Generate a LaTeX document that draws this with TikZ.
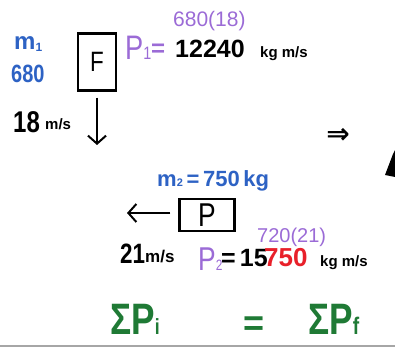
\documentclass[tikz,border=0pt]{standalone}
\usepackage{fontspec}
\setmainfont{Liberation Sans}
\newfontfamily\hand[FakeStretch=0.8]{Liberation Sans}
\newfontfamily\symf{DejaVu Sans}
\usetikzlibrary{arrows.meta}
\definecolor{hblue}{HTML}{2D62C4}
\definecolor{hpurple}{HTML}{9B6BD6}
\definecolor{hred}{HTML}{E8202A}
\definecolor{hgreen}{HTML}{1F7A35}
\newcommand\fsz[1]{\fontsize{#1}{#1}\selectfont}
\tikzset{
  txt/.style={inner sep=0pt, anchor=base west},
  boxnode/.style={draw, line width=2.5pt, inner sep=0pt},
  motion/.style={line width=2pt, -{Straight Barb[length=8pt,width=18pt]}}
}
\begin{document}
\begin{tikzpicture}[x=1pt,y=-1pt]
\useasboundingbox (0,0) rectangle (395,347);
\clip (0,0) rectangle (395,347);
% object 1
\node[txt,text=hblue] (m1) at (14,50) {\bfseries\fsz{24}m\raisebox{-2pt}{\fsz{12}1}};
\node[txt,text=hblue] (mass1) at (11,83) {\hand\bfseries\fsz{25}680};
\node[boxnode, minimum width=38pt, minimum height=57pt] (F) at (97,62) {\hand\fsz{28}F};
\coordinate (fend) at (97,145);
\draw[motion] ([yshift=-6pt]F.south) -- (fend);
\node[txt] (v1) at (13,133) {\hand\bfseries\fsz{30}18};
\node[txt] (v1u) at (45,130) {\bfseries\fsz{15}m/s};
\node[txt,text=hpurple] (p1) at (125,60) {\hand\fsz{34}P\fsz{18}1};
\node[txt,text=hpurple] (p1eq) at (151,57) {\bfseries\fsz{24}=};
\node[txt,text=hpurple] (p1calc) at (173,27) {\fsz{21}680(18)};
\node[txt] (p1val) at (175,58) {\bfseries\fsz{25}12240};
\node[txt] (p1unit) at (260,58) {\bfseries\fsz{15}kg m/s};
% implies
\node[inner sep=0pt] (imp) at (338,136) {\symf\bfseries\fsz{28}⇒};
\fill (385,175) -- (393,154) -- (395,150) -- (395,177) -- cycle;
% object 2
\node[txt,text=hblue] (m2) at (157,186) {\bfseries\fsz{22}m\fsz{11}2\fsz{22}\,=\,750\,kg};
\node[boxnode, minimum width=55pt, minimum height=32pt] (P) at (207,215) {\hand\fsz{33}P};
\coordinate (pend) at (127,213);
\draw[motion] ([xshift=-8pt,yshift=2pt]P.west) -- (pend);
\node[txt] (v2) at (120,263) {\hand\bfseries\fsz{28}21};
\node[txt] (v2u) at (145,262) {\bfseries\fsz{17}m/s};
\node[txt,text=hpurple] (p2) at (198,270) {\hand\fsz{33}P\fsz{15}2};
\node[txt] (p2eq) at (221,266) {\bfseries\fsz{25}=\,15};
\node[txt,text=hred] (p2red) at (264,266) {\bfseries\fsz{26}750};
\node[txt] (p2unit) at (320,266) {\bfseries\fsz{15}kg m/s};
\node[txt,text=hpurple] (p2calc) at (257,242) {\fsz{20}720(21)};
% conservation
\node[txt,text=hgreen] (si) at (110,334) {\hand\bfseries\fsz{44}ΣP\fsz{22}i};
\node[inner sep=0pt,text=hgreen] (eq) at (254,326) {\bfseries\fsz{36}=};
\node[txt,text=hgreen] (sf) at (308,334) {\hand\bfseries\fsz{44}ΣP\fsz{24}f};
\draw[gray!70, line width=2pt] (0,345.5) -- (395,345.5);
\end{tikzpicture}
\end{document}
